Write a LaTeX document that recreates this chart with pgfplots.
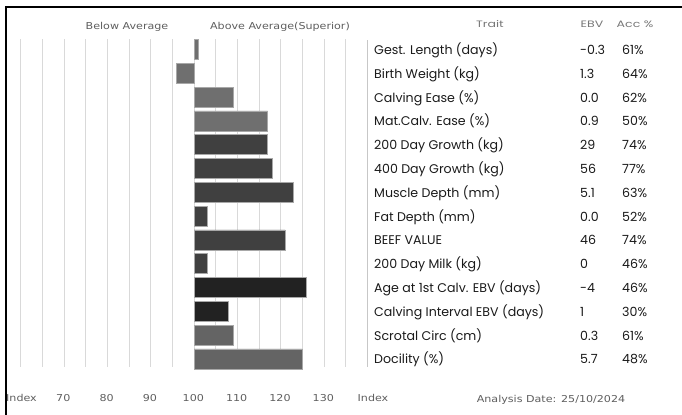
\documentclass[border=0pt]{standalone}
\usepackage{pgfplots}
\pgfplotsset{compat=1.18}
\usepackage{pgfplotstable}
\usepackage{fontspec}
\setmainfont{Poppins}
\newfontfamily\vfont{DejaVu Sans}
\definecolor{cA}{HTML}{6F6F6F}
\definecolor{cB}{HTML}{404040}
\definecolor{cC}{HTML}{222222}
\definecolor{cD}{HTML}{646464}
\definecolor{bord}{HTML}{A8A8A8}
\definecolor{gridc}{HTML}{D9D9D9}
\definecolor{lab}{HTML}{5E5E5E}
\definecolor{hdr}{HTML}{777777}
\definecolor{txt}{HTML}{1A1A1A}

% index values (100 = average), row number
\pgfplotstableread{
row idx
1 101
2 96
3 109
4 117
}\grpA
\pgfplotstableread{
row idx
5 117
6 118
7 123
8 103
9 121
10 103
}\grpB
\pgfplotstableread{
row idx
11 126
12 108
}\grpC
\pgfplotstableread{
row idx
13 109
14 125
}\grpD

\newcommand\myvt[1]{{\vfont\fontsize{9.5bp}{11bp}\selectfont\scalebox{1.17}[1]{#1}}}
\newcommand\mypt[1]{{\fontsize{12.6bp}{14bp}\selectfont #1}}
\newcommand\myht[1]{{\fontsize{9.3bp}{11bp}\selectfont\color{hdr}\scalebox{1.35}[1]{#1}}}

\begin{document}
\begin{tikzpicture}
\useasboundingbox (0,0) rectangle (682bp,-415bp);
\begin{axis}[
  at={(20.7bp,-39.3bp)}, anchor=north west,
  scale only axis, width=325bp, height=328bp,
  xmin=-40, xmax=35, ymin=0.571, ymax=14.35, y dir=reverse,
  xtick={-40,-35,...,35}, xticklabels={}, ytick=\empty,
  xmajorgrids, major grid style={draw=gridc, line width=1bp},
  axis line style={draw=none}, tick style={draw=none},
  clip=false,
  xbar, bar shift=0pt, bar width=20bp,
]
\addplot[fill=cA, draw=bord, line width=0.6bp] table[x expr=\thisrow{idx}-100, y=row] {\grpA};
\addplot[fill=cB, draw=bord, line width=0.6bp] table[x expr=\thisrow{idx}-100, y=row] {\grpB};
\addplot[fill=cC, draw=bord, line width=0.6bp] table[x expr=\thisrow{idx}-100, y=row] {\grpC};
\addplot[fill=cD, draw=bord, line width=0.6bp] table[x expr=\thisrow{idx}-100, y=row] {\grpD};
\end{axis}
\begin{scope}[x=1bp, y=-1bp]
  % frame
  \draw[black, line width=1.2bp] (6,415) -- (6,7) -- (682,7);
  \draw[gridc!80!gray, line width=0.8bp] (367,40) -- (367,367);
  % top labels
  \node[anchor=base, text=lab, inner sep=0] at (127,29.3) {\myvt{Below Average}};
  \node[anchor=base, text=lab, inner sep=0] at (280,29.3) {\myvt{Above Average(Superior)}};
  % tick labels
  \foreach \x/\l in {21.5/Index,63.3/70,106.7/80,150/90,193.3/100,236.7/110,280/120,323.3/130,373/Index}
    \node[anchor=base, text=lab, inner sep=0] at (\x,401.7) {\myvt{\l}};
  \node[anchor=base, text=lab, inner sep=0] at (551,402) {\myvt{Analysis Date: 25/10/2024}};
  % table headers
  \node[anchor=base, inner sep=0] at (490,27.3) {\myht{Trait}};
  \node[anchor=base, inner sep=0] at (592,27.3) {\myht{EBV}};
  \node[anchor=base, inner sep=0] at (635,27.3) {\myht{Acc \%}};
  % table rows
  \foreach \t/\e/\a [count=\i] in {
    Gest. Length (days)/-0.3/61\%,
    Birth Weight (kg)/1.3/64\%,
    Calving Ease (\%)/0.0/62\%,
    Mat.Calv. Ease (\%)/0.9/50\%,
    200 Day Growth (kg)/29/74\%,
    400 Day Growth (kg)/56/77\%,
    Muscle Depth (mm)/5.1/63\%,
    Fat Depth (mm)/0.0/52\%,
    BEEF VALUE/46/74\%,
    200 Day Milk (kg)/0/46\%,
    Age at 1st Calv. EBV (days)/-4/46\%,
    Calving Interval EBV (days)/1/30\%,
    Scrotal Circ (cm)/0.3/61\%,
    Docility (\%)/5.7/48\%}
  {
    \pgfmathsetmacro\yy{49.5+(\i-1)*23.8+5}
    \node[anchor=base west, inner sep=0, text=txt] at (374,\yy) {\mypt{\t}};
    \node[anchor=base west, inner sep=0, text=txt] at (580,\yy) {\mypt{\e}};
    \node[anchor=base west, inner sep=0, text=txt] at (622,\yy) {\mypt{\a}};
  }
\end{scope}
\end{tikzpicture}
\end{document}
